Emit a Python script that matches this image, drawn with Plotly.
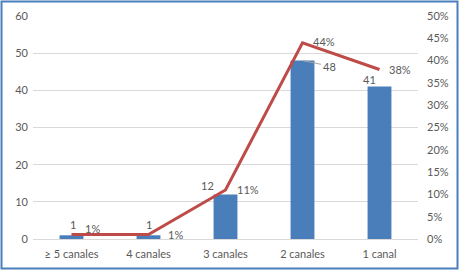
import plotly.graph_objects as go

categories = ["≥ 5 canales", "4 canales", "3 canales", "2 canales", "1 canal"]
counts = [1, 1, 12, 48, 41]
percents = [0.01, 0.01, 0.11, 0.44, 0.38]
pct_labels = ["1%", "1%", "11%", "44%", "38%"]

W, H = 459, 270
ML, MR, MT, MB = 33, 41, 16, 31
GRAY = "#595959"
FONT = "Lato"

fig = go.Figure()
fig.add_trace(go.Bar(x=categories, y=counts, marker_color="#4A7EBB",
                     marker_line_width=0, yaxis="y", showlegend=False))
fig.add_trace(go.Scatter(x=categories, y=percents, mode="lines",
                         line=dict(color="#BE4B48", width=3),
                         yaxis="y2", showlegend=False))

# label offsets (pixels) for count and percent labels
count_off = [(1, 11), (0, 11), (-18, 9), (27, -6), (-10, 7)]
pct_off = [(21, 6), (27, 0), (22, 0), (21, 1), (20, 0)]
ann = []
for i, c in enumerate(categories):
    ann.append(dict(x=c, y=counts[i], xref="x", yref="y", text=str(counts[i]),
                    showarrow=False, xshift=count_off[i][0], yshift=count_off[i][1],
                    font=dict(family=FONT, size=11, color=GRAY)))
    ann.append(dict(x=c, y=percents[i], xref="x", yref="y2", text=pct_labels[i],
                    showarrow=False, xshift=pct_off[i][0], yshift=pct_off[i][1],
                    font=dict(family=FONT, size=11, color=GRAY)))

# small leader line next to the "48" label
ann.append(dict(x=categories[3], y=counts[3], xref="x", yref="y", text="",
                showarrow=True, arrowhead=0, arrowwidth=1, arrowcolor="#A6A6A6",
                ax=20, ay=4, standoff=0, startstandoff=0))

pw = W - ML - MR
ph = H - MT - MB
shapes = [dict(type="rect", xref="paper", yref="paper",
               x0=(1.5 - ML) / pw, x1=(W - 1.5 - ML) / pw,
               y0=-(H - 1.5 - MT - ph) / ph, y1=(MT - 1.5) / ph + 1,
               line=dict(color="#4A7EBB", width=2), layer="above")]

fig.update_layout(
    width=W, height=H,
    margin=dict(l=ML, r=MR, t=MT, b=MB, autoexpand=False),
    paper_bgcolor="white", plot_bgcolor="white",
    bargap=0.69,
    font=dict(family=FONT, size=11, color=GRAY),
    xaxis=dict(showgrid=False, showline=True, linecolor="#D9D9D9", linewidth=1,
               ticks="", ticklabelstandoff=5, automargin=False,
               tickfont=dict(size=11, color=GRAY)),
    yaxis=dict(range=[0, 60], dtick=10, showgrid=True, gridcolor="#D9D9D9",
               zeroline=False, showline=False, ticks="", automargin=False,
               ticklabelstandoff=4, tickfont=dict(size=11, color=GRAY)),
    yaxis2=dict(range=[0, 0.5], dtick=0.05, tickformat=".0%", overlaying="y",
                side="right", showgrid=False, zeroline=False, showline=False,
                ticks="", ticklabelstandoff=8, automargin=False,
                tickfont=dict(size=11, color=GRAY)),
    annotations=ann,
    shapes=shapes,
)

fig.write_html("out.html")
